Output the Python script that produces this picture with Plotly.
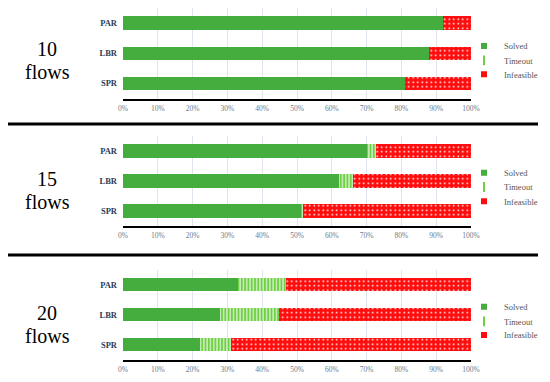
import plotly.graph_objects as go
from plotly.subplots import make_subplots

categories = ["PAR", "LBR", "SPR"]
flow_labels = ["10", "15", "20"]
series_names = ["Solved", "Timeout", "Infeasible"]

solved_10 = [92.0, 88.0, 81.0]
timeout_10 = [0.0, 0.0, 0.0]
infeasible_10 = [8.0, 12.0, 19.0]

solved_15 = [70.0, 62.2, 51.2]
timeout_15 = [2.7, 3.8, 0.6]
infeasible_15 = [27.3, 34.0, 48.2]

solved_20 = [33.0, 28.0, 22.0]
timeout_20 = [13.8, 16.9, 9.0]
infeasible_20 = [53.2, 55.1, 69.0]

tick_vals = [0, 10, 20, 30, 40, 50, 60, 70, 80, 90, 100]
tick_text = ["0%", "10%", "20%", "30%", "40%", "50%", "60%", "70%", "80%", "90%", "100%"]

panels = [
    (solved_10, timeout_10, infeasible_10),
    (solved_15, timeout_15, infeasible_15),
    (solved_20, timeout_20, infeasible_20),
]

# page body has an 8px margin: figure drawn at (8, 8) in the window
OX, OY = 8, 8
W, H = 550 - OX, 382 - OY


def px(x):
    return (x - OX) / W


def py(y):
    return 1 - (y - OY) / H


GREEN = "#45ad3d"
LGREEN = "#6fcf45"
RED = "#ff0d0d"
SERIF = "Liberation Serif"

fig = make_subplots(rows=3, cols=1)

# window-pixel geometry (top, bottom) of each plot area
areas = [(8, 98.5), (136, 226), (270, 359.5)]
legend_y = [(46, 60.3, 74.3), (172.7, 187, 201.3), (306.7, 321.3, 335)]
label_y = [(49.25, 72.25), (178.75, 201.75), (312.75, 335.75)]

styles = [
    dict(color=GREEN),
    dict(color=LGREEN, pattern=dict(shape="|", bgcolor=LGREEN, fgcolor="white",
                                    size=3.3, solidity=0.3, fillmode="replace")),
    dict(color=RED, pattern=dict(shape=".", bgcolor=RED, fgcolor="white",
                                 size=4.5, solidity=0.12, fillmode="replace")),
]
legend_markers = [
    dict(symbol="square", size=6, color=GREEN),
    dict(symbol="line-ns", size=7, color=LGREEN, line=dict(width=2, color=LGREEN)),
    dict(symbol="square", size=6, color=RED),
]

legend_layouts = {}
lid = 0
for p, vals in enumerate(panels):
    r = p + 1
    for s, name in enumerate(series_names):
        fig.add_trace(go.Bar(
            x=vals[s], y=categories, orientation="h", name=name,
            marker=dict(line=dict(width=0), **styles[s]), showlegend=False,
        ), row=r, col=1)
    for s, name in enumerate(series_names):
        lid += 1
        lname = "legend" if lid == 1 else f"legend{lid}"
        fig.add_trace(go.Scatter(
            x=[None], y=[None], mode="markers", name=name,
            marker=legend_markers[s], legend=lname, showlegend=True,
        ), row=r, col=1)
        legend_layouts[lname] = dict(
            x=px(464), xanchor="left", y=py(legend_y[p][s]), yanchor="middle",
            bgcolor="rgba(0,0,0,0)", font=dict(family=SERIF, size=8.5, color="#555555"),
            itemwidth=30, borderwidth=0,
        )

for p in range(3):
    r = p + 1
    top, bot = areas[p]
    fig.update_xaxes(
        row=r, col=1, range=[0, 100], domain=[px(123), px(471)],
        tickmode="array", tickvals=tick_vals, ticktext=tick_text,
        showgrid=True, gridcolor="#dfe5ee",
        gridwidth=1, zeroline=False, showline=True, linecolor="black", linewidth=2,
        tickfont=dict(family=SERIF, size=7.5, color="#6b7b8c"), ticks="",
        ticklabelstandoff=1, automargin=False, fixedrange=True,
    )
    fig.update_yaxes(
        row=r, col=1, domain=[py(bot), py(top)],
        categoryorder="array", categoryarray=categories[::-1], range=[-0.5, 2.5],
        showgrid=False, zeroline=False, showline=False, ticks="",
        tickfont=dict(family=SERIF, size=8.5, color="#2b3d59", weight="bold"),
        ticklabelstandoff=5, automargin=False, fixedrange=True,
    )

annotations = []
for p, fl in enumerate(flow_labels):
    for txt, yy in zip([fl, "flows"], label_y[p]):
        annotations.append(dict(
            text=txt, x=px(47), y=py(yy), xref="paper", yref="paper",
            xanchor="center", yanchor="middle", showarrow=False,
            font=dict(family=SERIF, size=20, color="black"),
        ))

shapes = []
for yy in [124, 255]:
    shapes.append(dict(type="line", xref="paper", yref="paper",
                       x0=px(8), x1=px(538), y0=py(yy), y1=py(yy),
                       line=dict(color="black", width=3)))

fig.update_layout(
    width=W, height=H, margin=dict(l=0, r=0, t=0, b=0, autoexpand=False),
    paper_bgcolor="white", plot_bgcolor="white",
    barmode="stack", bargap=0.56,
    annotations=annotations, shapes=shapes,
    **legend_layouts,
)

fig.write_html("out.html")
